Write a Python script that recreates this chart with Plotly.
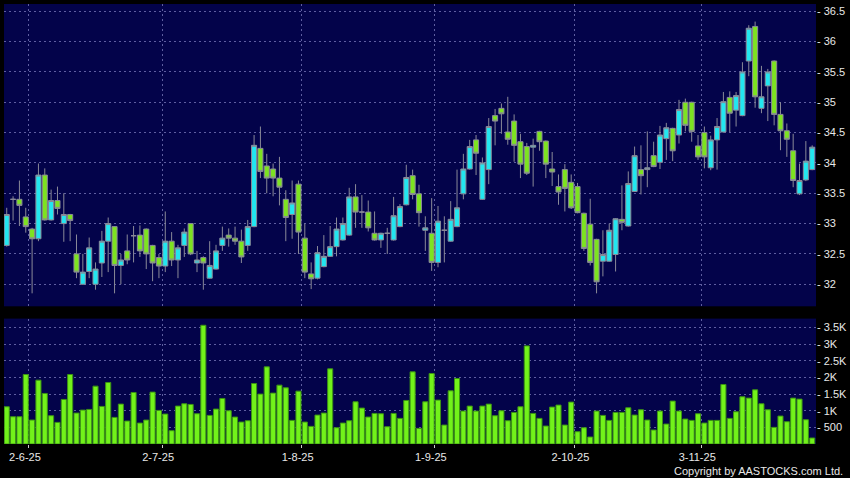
import plotly.graph_objects as go
import pandas as pd

# ---- data -------------------------------------------------------------
hk_holidays = ["2025-07-01", "2025-10-01", "2025-10-07", "2025-10-29"]
dates = pd.bdate_range("2025-05-27", "2025-11-26", freq="C", holidays=hk_holidays)

open_ = [32.64, 33.40, 33.40, 33.11, 32.91, 32.75, 33.80, 33.06, 33.38, 33.00,
         33.15, 32.50, 32.00, 32.21, 32.00, 32.35, 32.71, 32.95, 32.31, 32.55,
         32.80, 32.81, 32.91, 32.64, 32.44, 32.30, 32.71, 32.40, 32.64, 33.00,
         32.35, 32.44, 32.10, 32.25, 32.64, 32.81, 32.76, 32.71, 32.64, 32.95,
         34.24, 33.95, 33.90, 33.75, 33.40, 33.15, 33.65, 32.76, 32.17, 32.10,
         32.29, 32.46, 32.62, 32.73, 32.81, 33.44, 33.19, 33.19, 32.84, 32.73,
         32.84, 32.73, 32.95, 33.31, 33.79, 33.49, 32.89, 32.84, 32.36, 32.89,
         32.71, 32.95, 33.49, 33.90, 34.38, 33.40, 33.89, 34.78, 34.90, 34.51,
         34.69, 34.35, 34.27, 34.26, 34.52, 34.36, 33.90, 33.61, 33.89, 33.68,
         33.61, 33.17, 32.99, 32.74, 32.38, 32.38, 32.49, 33.07, 32.96, 33.53,
         33.89, 33.89, 34.12, 34.01, 34.40, 34.57, 34.46, 35.00, 35.00, 34.28,
         34.50, 33.92, 34.38, 34.51, 35.08, 34.87, 34.78, 35.68, 36.25, 34.90,
         35.27, 35.68, 34.80, 34.53, 34.20, 33.49, 33.72, 33.89]
high = [33.26, 33.45, 33.71, 33.26, 32.93, 33.99, 33.91, 33.56, 33.61, 33.50,
        33.16, 32.82, 32.50, 32.77, 32.36, 32.88, 33.10, 32.96, 32.50, 32.82,
        32.96, 32.97, 32.92, 32.65, 32.50, 33.20, 32.86, 32.65, 32.92, 33.01,
        32.55, 32.46, 32.71, 32.65, 32.95, 32.92, 32.95, 32.90, 33.06, 34.46,
        34.60, 34.15, 33.99, 34.10, 33.55, 33.71, 33.71, 33.00, 32.36, 32.63,
        32.81, 32.96, 33.10, 33.10, 33.59, 33.65, 33.47, 33.38, 33.20, 32.85,
        32.93, 33.44, 33.32, 33.97, 33.89, 33.64, 33.12, 33.42, 33.29, 33.12,
        33.37, 33.89, 34.15, 34.38, 34.46, 34.09, 34.74, 34.89, 34.98, 35.09,
        34.80, 34.48, 34.33, 34.40, 34.53, 34.37, 34.18, 33.81, 33.98, 33.81,
        33.67, 33.18, 33.41, 32.75, 32.89, 33.00, 33.09, 33.63, 33.86, 34.27,
        34.29, 34.52, 34.35, 34.61, 34.66, 34.58, 35.04, 35.06, 35.01, 34.46,
        34.60, 34.45, 34.74, 35.17, 35.18, 35.17, 35.66, 36.27, 36.33, 35.60,
        35.55, 35.69, 35.00, 34.65, 34.48, 33.99, 34.36, 34.29]
low = [32.62, 33.05, 32.96, 32.85, 31.85, 32.71, 33.05, 33.05, 33.15, 32.70,
       32.71, 32.10, 31.99, 32.10, 31.91, 32.12, 32.20, 31.85, 32.00, 32.33,
       32.36, 32.45, 32.25, 32.05, 32.10, 32.20, 32.30, 32.10, 32.45, 32.48,
       32.20, 31.91, 32.09, 32.24, 32.55, 32.62, 32.65, 32.35, 32.55, 32.94,
       33.75, 33.50, 33.45, 33.30, 32.71, 32.75, 32.50, 32.10, 31.92, 32.08,
       32.28, 32.45, 32.46, 32.72, 32.80, 32.93, 32.93, 32.87, 32.72, 32.60,
       32.50, 32.72, 32.94, 33.30, 33.40, 32.95, 32.55, 32.22, 32.28, 32.36,
       32.70, 32.94, 33.40, 33.89, 33.80, 33.39, 33.65, 34.29, 34.48, 34.30,
       34.02, 33.75, 33.80, 33.61, 34.20, 33.75, 33.62, 33.31, 33.20, 33.24,
       33.17, 32.55, 32.31, 31.85, 32.13, 32.37, 32.21, 32.89, 32.95, 33.52,
       33.48, 33.60, 33.93, 33.90, 34.05, 34.03, 34.32, 34.52, 34.35, 34.05,
       33.91, 33.88, 33.89, 34.50, 34.51, 34.60, 34.77, 35.43, 34.91, 34.82,
       34.69, 34.62, 34.21, 34.10, 33.60, 33.47, 33.70, 33.88]
close = [33.15, 33.40, 33.30, 32.95, 32.75, 33.80, 33.06, 33.38, 33.25, 33.15,
         33.05, 32.20, 32.20, 32.60, 32.25, 32.71, 33.00, 32.31, 32.40, 32.40,
         32.80, 32.55, 32.50, 32.35, 32.30, 32.71, 32.40, 32.60, 32.86, 32.50,
         32.40, 32.35, 32.31, 32.55, 32.76, 32.76, 32.71, 32.45, 32.95, 34.29,
         33.86, 33.75, 33.75, 33.60, 33.10, 33.34, 32.86, 32.20, 32.09, 32.52,
         32.46, 32.62, 32.91, 33.00, 33.44, 33.19, 33.19, 32.93, 32.73, 32.84,
         32.84, 33.13, 33.28, 33.76, 33.48, 33.18, 32.93, 32.36, 33.04, 32.89,
         33.07, 33.26, 33.90, 34.27, 34.16, 34.00, 34.60, 34.69, 34.81, 34.39,
         34.29, 33.98, 33.83, 34.29, 34.35, 33.98, 33.85, 33.52, 33.58, 33.26,
         33.18, 32.59, 32.36, 32.04, 32.49, 32.89, 33.08, 33.02, 33.66, 34.12,
         33.79, 33.92, 33.94, 34.46, 34.58, 34.20, 34.88, 34.62, 34.52, 34.10,
         34.10, 34.38, 34.60, 35.01, 34.82, 35.11, 35.50, 36.22, 35.09, 35.09,
         35.50, 34.80, 34.53, 34.39, 33.71, 33.71, 34.03, 34.26]
volume = [1120, 820, 820, 2090, 720, 1920, 1520, 850, 650, 1340,
          2090, 930, 1020, 1040, 1740, 1130, 1850, 800, 1200, 690,
          1550, 630, 720, 1560, 1010, 900, 400, 1140, 1210, 1190,
          910, 3570, 860, 1050, 1370, 1000, 810, 660, 700, 1820,
          1500, 2320, 1530, 1770, 1690, 710, 1590, 660, 530, 870,
          930, 2260, 490, 630, 700, 1270, 1080, 810, 920, 910,
          520, 920, 770, 1310, 2170, 470, 1270, 2120, 1320, 570,
          1600, 1970, 990, 1140, 990, 1140, 1200, 850, 1000, 700,
          950, 1120, 2950, 920, 770, 540, 1110, 1170, 570, 1260,
          370, 490, 210, 990, 860, 710, 950, 950, 1090, 870,
          1030, 720, 420, 990, 600, 1290, 990, 750, 710, 910,
          630, 710, 710, 1790, 770, 970, 1420, 1380, 1630, 1210,
          1030, 500, 840, 670, 1380, 1350, 730, 180]

price_ticks = [32, 32.5, 33, 33.5, 34, 34.5, 35, 35.5, 36, 36.5]
vol_ticks = [500, 1000, 1500, 2000, 2500, 3000, 3500]
vol_tick_text = ["500", "1K", "1.5K", "2K", "2.5K", "3K", "3.5K"]

# ---- positions / labels -------------------------------------------------
n = len(dates)
xi = list(range(n))
month_start = [i for i in range(1, n) if dates[i].month != dates[i - 1].month]
date_tickvals = [i - 0.5 for i in month_start]
date_ticktext = [f"{dates[i].day}-{dates[i].month}-{dates[i].strftime('%y')}" for i in month_start]
hover = [d.strftime("%Y-%m-%d") for d in dates]

NAVY = "#03034a"
GRID = "rgba(125,125,190,0.75)"
GRID_DASH = "2px,3px"
TXT = "#e8e8e8"
FONT = "Liberation Sans, Arial, sans-serif"

fig = go.Figure()
fig.add_trace(go.Candlestick(
    x=xi, open=open_, high=high, low=low, close=close, text=hover,
    increasing=dict(fillcolor="#22e6f0", line=dict(color="#8a8a98", width=1)),
    decreasing=dict(fillcolor="#7de320", line=dict(color="#8a8a98", width=1)),
    whiskerwidth=0, xaxis="x", yaxis="y", showlegend=False))
fig.add_trace(go.Bar(
    x=xi, y=volume, width=0.8, hovertext=hover,
    marker=dict(color="#72f21a", line=dict(color="#3c9414", width=1)),
    xaxis="x2", yaxis="y2", showlegend=False))

xr = [-0.43, n - 0.4]
common_x = dict(range=xr, showgrid=True, gridcolor=GRID, griddash=GRID_DASH, gridwidth=1,
                zeroline=False, showline=False, tickvals=date_tickvals, ticktext=date_ticktext,
                fixedrange=True)

fig.update_layout(
    width=850, height=478,
    margin=dict(l=4, r=34, t=4, b=34),
    paper_bgcolor="black", plot_bgcolor=NAVY,
    font=dict(family=FONT, size=11, color=TXT),
    boxgap=0.2, boxgroupgap=0,
    bargap=0.2,
    hovermode=False,
    xaxis=dict(common_x, anchor="y", showticklabels=False, ticks="",
               rangeslider=dict(visible=False), domain=[0, 1]),
    xaxis2=dict(common_x, anchor="y2", matches="x", showticklabels=True, ticks="outside",
                ticklen=3, tickcolor="#cccccc", tickfont=dict(size=11, color=TXT),
                ticklabelshift=-4, domain=[0, 1]),
    yaxis=dict(domain=[0.3129, 1.0], range=[31.636, 36.62], side="right",
               tickvals=price_ticks, ticktext=[f"- {v:g}" for v in price_ticks],
               showgrid=True, gridcolor=GRID, griddash=GRID_DASH, gridwidth=1,
               zeroline=False, ticks="", tickfont=dict(size=11, color=TXT), fixedrange=True),
    yaxis2=dict(domain=[0.0, 0.285], range=[0, 3771], side="right",
                tickvals=vol_ticks, ticktext=[f"- {t}" for t in vol_tick_text],
                showgrid=True, gridcolor=GRID, griddash=GRID_DASH, gridwidth=1,
                zeroline=False, ticks="", tickfont=dict(size=11, color=TXT), fixedrange=True),
    annotations=[dict(text="Copyright by AASTOCKS.com Ltd.", xref="paper", yref="paper",
                      x=1.0357, y=-0.0612, xanchor="right", yanchor="middle", showarrow=False,
                      font=dict(size=11, color=TXT, family=FONT))],
)

fig.write_html("out.html",
               config={"displayModeBar": False},
               post_script="document.body.style.margin='0';document.body.style.background='black';")
